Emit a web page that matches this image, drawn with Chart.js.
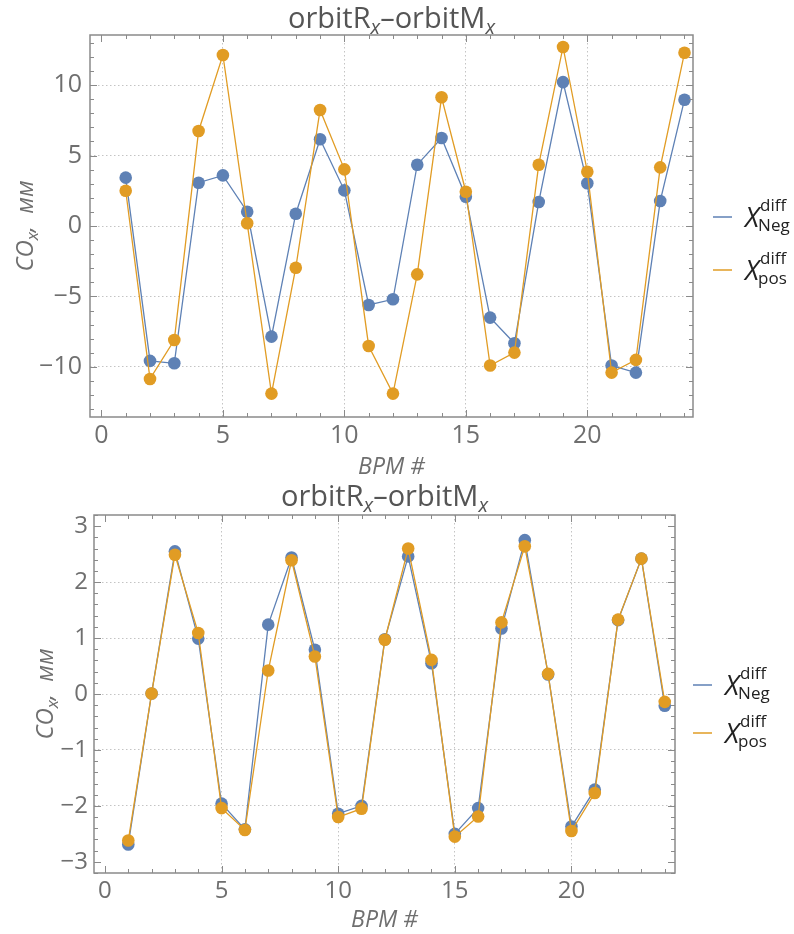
<!DOCTYPE html>
<html>
<head>
<meta charset="utf-8">
<script src="https://cdn.jsdelivr.net/npm/chart.js@4.4.0/dist/chart.umd.min.js"></script>
<style>
  body { margin: 0; background: #fff; }
  canvas { display: block; position: absolute; left: 0; }
  #topChart { top: 0; }
  #bottomChart { top: 467px; }
</style>
</head>
<body>
<canvas id="topChart" width="794" height="482"></canvas>
<canvas id="bottomChart" width="794" height="467"></canvas>
<script>
// BPM numbers
const bpm = [1, 2, 3, 4, 5, 6, 7, 8, 9, 10, 11, 12, 13, 14, 15, 16, 17, 18, 19, 20, 21, 22, 23, 24];

// upper plot, mm
const topNeg = [3.43, -9.57, -9.74, 3.07, 3.59, 1.01, -7.85, 0.87, 6.15, 2.53, -5.6, -5.2,
                4.35, 6.24, 2.08, -6.5, -8.32, 1.7, 10.21, 3.03, -9.9, -10.4, 1.77, 8.96];
const topPos = [2.5, -10.85, -8.09, 6.74, 12.13, 0.19, -11.89, -2.96, 8.23, 4.02, -8.51, -11.89,
                -3.43, 9.13, 2.43, -9.9, -8.98, 4.35, 12.7, 3.85, -10.4, -9.5, 4.16, 12.29];

// lower plot, mm
const botNeg = [-2.69, 0.01, 2.55, 0.99, -1.96, -2.42, 1.24, 2.44, 0.79, -2.14, -2.0, 0.98,
                2.46, 0.55, -2.5, -2.04, 1.17, 2.75, 0.35, -2.37, -1.71, 1.32, 2.42, -0.21];
const botPos = [-2.62, 0.01, 2.49, 1.09, -2.04, -2.43, 0.42, 2.39, 0.67, -2.2, -2.05, 0.97,
                2.6, 0.61, -2.55, -2.19, 1.28, 2.64, 0.36, -2.45, -1.77, 1.33, 2.42, -0.14];

const xTicks = [0, 5, 10, 15, 20];
const xGrid = [5, 10, 15, 20];
const topYTicks = [-10, -5, 0, 5, 10];
const botYTicks = [-3, -2, -1, 0, 1, 2, 3];
const botYGrid = [-2, -1, 0, 1, 2];

const blue = "#5E81B5";
const orange = "#E19C24";
const labelGray = "#6f6f6f";
const sansFont = "'Open Sans', 'Noto Sans', sans-serif";

function minus(v) {
  return v < 0 ? "\u2212" + Math.abs(v) : String(v);
}

// draws the frame, inner ticks, title, axis titles and legend
const decorPlugin = {
  id: "decor",
  afterDraw(chart, args, o) {
    const { ctx, chartArea: a, scales: { x, y } } = chart;
    ctx.save();

    // inner ticks
    ctx.strokeStyle = "#8a8a8a";
    ctx.lineWidth = 1;
    ctx.beginPath();
    for (let v = 0; v <= 24; v++) {
      const px = Math.round(x.getPixelForValue(v)) + 0.5;
      const len = v % 5 === 0 ? 7 : 4;
      ctx.moveTo(px, a.bottom); ctx.lineTo(px, a.bottom - len);
      ctx.moveTo(px, a.top); ctx.lineTo(px, a.top + len);
    }
    const nMinor = Math.round((o.yMinorMax - o.yMinorMin) / o.yMinorStep);
    for (let i = 0; i <= nMinor; i++) {
      const v = o.yMinorMin + i * o.yMinorStep;
      const py = Math.round(y.getPixelForValue(v)) + 0.5;
      const major = Math.abs(v / o.yMajorStep - Math.round(v / o.yMajorStep)) < 1e-6;
      const len = major ? 7 : 4;
      ctx.moveTo(a.left, py); ctx.lineTo(a.left + len, py);
      ctx.moveTo(a.right, py); ctx.lineTo(a.right - len, py);
    }
    ctx.stroke();

    // frame
    ctx.lineWidth = 1.5;
    ctx.strokeStyle = "#8a8a8a";
    ctx.strokeRect(a.left, a.top, a.right - a.left, a.bottom - a.top);

    // title: orbitR_x – orbitM_x
    const big = "29px " + sansFont;
    const sub = "italic 20px " + sansFont;
    const parts = [
      { t: "orbitR", f: big, dy: 0 },
      { t: "x", f: sub, dy: 6 },
      { t: "\u2013orbitM", f: big, dy: 0 },
      { t: "x", f: sub, dy: 6 }
    ];
    let w = 0;
    parts.forEach(p => { ctx.font = p.f; p.w = ctx.measureText(p.t).width; w += p.w; });
    let cx = (a.left + a.right) / 2 - w / 2;
    ctx.fillStyle = "#555";
    ctx.textBaseline = "alphabetic";
    ctx.textAlign = "left";
    parts.forEach(p => { ctx.font = p.f; ctx.fillText(p.t, cx, a.top - o.titleGap + p.dy); cx += p.w; });

    // x axis title
    ctx.fillStyle = labelGray;
    ctx.font = "italic 23px " + sansFont;
    ctx.textAlign = "center";
    ctx.textBaseline = "middle";
    ctx.fillText("BPM #", (a.left + a.right) / 2, a.bottom + o.xTitleGap);

    // y axis title: CO_x, мм
    ctx.save();
    ctx.translate(o.yTitleX, (a.top + a.bottom) / 2);
    ctx.rotate(-Math.PI / 2);
    const yParts = [
      { t: "CO", f: "italic 24px " + sansFont, dy: 0 },
      { t: "x", f: "italic 17px " + sansFont, dy: 5 },
      { t: ",  \u043c\u043c", f: "italic 24px " + sansFont, dy: 0 }
    ];
    let yw = 0;
    yParts.forEach(p => { ctx.font = p.f; p.w = ctx.measureText(p.t).width; yw += p.w; });
    let yx = -yw / 2;
    ctx.textAlign = "left";
    ctx.textBaseline = "alphabetic";
    yParts.forEach(p => { ctx.font = p.f; ctx.fillText(p.t, yx, 8 + p.dy); yx += p.w; });
    ctx.restore();

    // legend
    const items = [
      { color: blue, sub: "Neg", y: o.legendY[0] },
      { color: orange, sub: "pos", y: o.legendY[1] }
    ];
    items.forEach(it => {
      ctx.strokeStyle = it.color;
      ctx.lineWidth = 1.5;
      ctx.beginPath();
      ctx.moveTo(o.legendX, it.y);
      ctx.lineTo(o.legendX + 19, it.y);
      ctx.stroke();
      ctx.fillStyle = "#222";
      ctx.textAlign = "left";
      ctx.textBaseline = "alphabetic";
      ctx.font = "italic 27px " + sansFont;
      const tx = o.legendX + 32;
      ctx.fillText("X", tx, it.y + 10);
      const xw = ctx.measureText("X").width;
      ctx.font = "17px " + sansFont;
      ctx.fillText("diff", tx + xw + 1, it.y - 6);
      ctx.fillText(it.sub, tx + xw - 1, it.y + 14);
    });

    ctx.restore();
  }
};

function makeChart(id, negData, posData, cfg) {
  const ctx = document.getElementById(id).getContext("2d");
  return new Chart(ctx, {
    type: "line",
    data: {
      labels: bpm,
      datasets: [
        {
          label: "Neg",
          data: bpm.map((b, i) => ({ x: b, y: negData[i] })),
          borderColor: blue,
          backgroundColor: blue,
          pointBackgroundColor: blue,
          borderWidth: 1.3,
          pointRadius: 6.3,
          pointBorderWidth: 0,
          tension: 0,
          order: 2
        },
        {
          label: "pos",
          data: bpm.map((b, i) => ({ x: b, y: posData[i] })),
          borderColor: orange,
          backgroundColor: orange,
          pointBackgroundColor: orange,
          borderWidth: 1.3,
          pointRadius: 6.3,
          pointBorderWidth: 0,
          tension: 0,
          order: 1
        }
      ]
    },
    options: {
      responsive: false,
      animation: false,
      events: [],
      layout: { padding: { left: 0, right: cfg.padRight, top: cfg.padTop, bottom: cfg.padBottom } },
      plugins: {
        legend: { display: false },
        tooltip: { enabled: false },
        decor: cfg.decor
      },
      scales: {
        x: {
          type: "linear",
          min: -0.47,
          max: cfg.xMax,
          afterBuildTicks: s => { s.ticks = xTicks.map(v => ({ value: v })); },
          afterFit: s => { s.height = cfg.xHeight; },
          ticks: {
            color: labelGray,
            font: { family: sansFont, size: cfg.tickSize },
            padding: 4,
            maxRotation: 0,
            callback: v => minus(v)
          },
          grid: {
            drawTicks: false,
            lineWidth: 1,
            color: c => (c.tick && xGrid.includes(c.tick.value)) ? "#c4c4c4" : "rgba(0,0,0,0)"
          },
          border: { display: false, dash: [1.5, 2.5] }
        },
        y: {
          type: "linear",
          min: cfg.yMin,
          max: cfg.yMax,
          afterBuildTicks: s => { s.ticks = cfg.yTicks.map(v => ({ value: v })); },
          afterFit: s => { s.width = cfg.yWidth; },
          ticks: {
            color: labelGray,
            font: { family: sansFont, size: cfg.tickSize },
            padding: cfg.yTickPad,
            callback: v => minus(v)
          },
          grid: {
            drawTicks: false,
            lineWidth: 1,
            color: c => (c.tick && cfg.yGrid.includes(c.tick.value)) ? "#c4c4c4" : "rgba(0,0,0,0)"
          },
          border: { display: false, dash: [1.5, 2.5] }
        }
      }
    },
    plugins: [decorPlugin]
  });
}

makeChart("topChart", topNeg, topPos, {
  padRight: 101, padTop: 35, padBottom: 15, xHeight: 50, yWidth: 90, yTickPad: 8, tickSize: 25,
  xMax: 24.35, yMin: -13.55, yMax: 13.55,
  yTicks: topYTicks, yGrid: topYTicks,
  decor: {
    yMinorMin: -13, yMinorMax: 13, yMinorStep: 1, yMajorStep: 5,
    titleGap: 7, xTitleGap: 50, yTitleX: 25,
    legendX: 713, legendY: [217, 270]
  }
});

makeChart("bottomChart", botNeg, botPos, {
  padRight: 119, padTop: 48, padBottom: 0, xHeight: 61, yWidth: 94, yTickPad: 6, tickSize: 24,
  xMax: 24.44, yMin: -3.2, yMax: 3.2,
  yTicks: botYTicks, yGrid: botYGrid,
  decor: {
    yMinorMin: -3.2, yMinorMax: 3.2, yMinorStep: 0.2, yMajorStep: 1,
    titleGap: 9, xTitleGap: 47, yTitleX: 45,
    legendX: 693, legendY: [218, 266]
  }
});
</script>
</body>
</html>
